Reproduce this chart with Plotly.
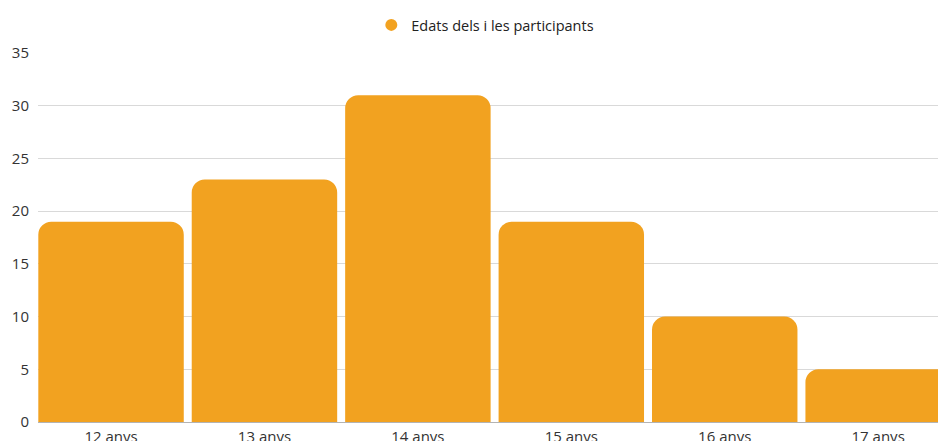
import plotly.graph_objects as go

# dades
categories = ['12 anys', '13 anys', '14 anys', '15 anys', '16 anys', '17 anys']
values = [19, 23, 31, 19, 10, 5]
series_name = 'Edats dels i les participants'

BAR_COLOR = '#f2a220'
FONT = 'Open Sans, Noto Sans, sans-serif'

fig = go.Figure()

fig.add_trace(go.Bar(
    x=categories,
    y=values,
    marker=dict(color=BAR_COLOR, cornerradius=13, line=dict(width=0)),
    showlegend=False,
    hoverinfo='x+y',
))

# entrada de llegenda amb cercle
fig.add_trace(go.Scatter(
    x=[None],
    y=[None],
    mode='markers',
    marker=dict(color=BAR_COLOR, size=15, symbol='circle'),
    name=series_name,
))

fig.update_layout(
    width=938,
    height=441,
    margin=dict(l=38, r=0, t=53, b=19),
    paper_bgcolor='white',
    plot_bgcolor='white',
    font=dict(family=FONT, size=15, color='#333333'),
    bargap=0.052,
    showlegend=True,
    legend=dict(
        orientation='h',
        x=0.497, xanchor='center',
        y=1.076, yanchor='middle',
        font=dict(size=14.5, color='#222222'),
        itemsizing='constant',
    ),
    xaxis=dict(
        range=[-0.476, 5.39],
        showgrid=False,
        showline=False,
        ticks='',
        automargin=False,
        ticklabelstandoff=4,
        tickfont=dict(size=15, color='#333333'),
        fixedrange=True,
    ),
    yaxis=dict(
        range=[0, 35],
        dtick=5,
        showgrid=True,
        gridcolor='#d9d9d9',
        gridwidth=1,
        zeroline=True,
        zerolinecolor='#b3b3b3',
        zerolinewidth=1,
        showline=False,
        ticks='',
        automargin=False,
        ticklabelstandoff=8,
        tickfont=dict(size=15, color='#333333'),
        fixedrange=True,
    ),
)

# treure el marge per defecte del body perquè el gràfic ocupi tota la finestra
fig.write_html(
    "out.html",
    config={'displayModeBar': False},
    post_script="document.body.style.margin='0'; document.body.style.overflow='hidden';",
)
